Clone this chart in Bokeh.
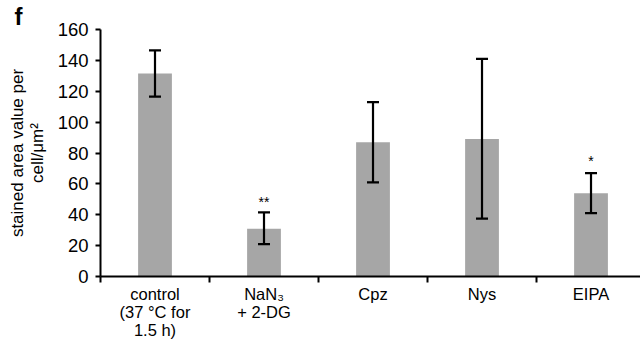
from bokeh.plotting import figure
from bokeh.models import Range1d, FixedTicker, Whisker, ColumnDataSource
from bokeh.core.properties import value
from bokeh.embed import file_html
from bokeh.resources import INLINE

categories = ["control\n(37 °C for\n1.5 h)", "NaN\u2083\n+ 2-DG", "Cpz", "Nys", "EIPA"]
means = [131.5, 31.0, 87.0, 89.0, 54.0]
err_upper = [146.5, 41.5, 113.0, 141.0, 67.0]
err_lower = [116.5, 21.0, 61.0, 37.5, 41.0]
stars = ["", "**", "", "", "*"]
star_y = [0, 48, 0, 0, 75]
y_ticks = [0, 20, 40, 60, 80, 100, 120, 140, 160]

xs = [i + 0.5 for i in range(len(categories))]
FONT = "Liberation Sans"

p = figure(width=640, height=341, output_backend="svg", toolbar_location=None,
           x_range=Range1d(0, 4.954), y_range=Range1d(0, 160),
           min_border_left=100, min_border_right=0, min_border_top=0, min_border_bottom=64,
           title="f")
p.title.text_font = FONT
p.title.text_font_style = "bold"
p.title.text_font_size = "24px"
p.title.text_line_height = 0.8
p.title.text_color = "black"
p.title.align = "left"
p.title.offset = -86
p.title.standoff = 0
p.outline_line_color = None
p.xgrid.visible = False
p.ygrid.visible = False
p.background_fill_color = "white"
p.border_fill_color = "white"

src = ColumnDataSource(dict(x=xs, top=means, upper=err_upper, lower=err_lower))
p.vbar(x="x", top="top", width=0.31, bottom=0, source=src, fill_color="#a6a6a6", line_color=None)

w = Whisker(base="x", upper="upper", lower="lower", source=src, line_color="black",
            line_width=2.2, level="overlay")
w.upper_head.size = 12
w.lower_head.size = 12
w.upper_head.line_width = 2.2
w.lower_head.line_width = 2.2
w.upper_head.line_color = "black"
w.lower_head.line_color = "black"
p.add_layout(w)

sx = [xs[i] for i in range(len(xs)) if stars[i]]
sy = [star_y[i] for i in range(len(xs)) if stars[i]]
st = [stars[i] for i in range(len(xs)) if stars[i]]
p.text(x=sx, y=sy, text=st, text_align="center", text_baseline="middle",
       text_font=value(FONT), text_font_size="14px", text_color="black")

# axes
p.xaxis.ticker = FixedTicker(ticks=xs, minor_ticks=[0, 1, 2, 3, 4])
p.xaxis.major_label_overrides = {x: c for x, c in zip(xs, categories)}
p.xaxis.major_tick_out = 0
p.xaxis.major_tick_in = 0
p.xaxis.minor_tick_out = 6
p.xaxis.minor_tick_in = 0
p.xaxis.minor_tick_line_width = 2
p.xaxis.minor_tick_line_color = "black"
p.xaxis.axis_line_width = 2
p.xaxis.axis_line_color = "black"
p.xaxis.major_label_text_font = FONT
p.xaxis.major_label_text_font_size = "16.5px"
p.xaxis.major_label_text_line_height = 1.0
p.xaxis.major_label_text_color = "black"
p.xaxis.major_label_standoff = 2

p.yaxis.ticker = FixedTicker(ticks=y_ticks)
p.yaxis.major_tick_out = 5
p.yaxis.major_tick_in = 0
p.yaxis.minor_tick_out = 0
p.yaxis.minor_tick_in = 0
p.yaxis.major_tick_line_width = 2
p.yaxis.major_tick_line_color = "black"
p.yaxis.axis_line_width = 2
p.yaxis.axis_line_color = "black"
p.yaxis.major_label_text_font = FONT
p.yaxis.major_label_text_font_size = "18.5px"
p.yaxis.major_label_text_color = "black"
p.yaxis.major_label_standoff = 7
p.yaxis.axis_label = "stained area value per\ncell/\u03bcm\u00b2"
p.yaxis.axis_label_text_font = FONT
p.yaxis.axis_label_text_font_style = "normal"
p.yaxis.axis_label_text_font_size = "17px"
p.yaxis.axis_label_text_line_height = 1.05
p.yaxis.axis_label_text_color = "black"
p.yaxis.axis_label_standoff = 8

open("out.html", "w").write(file_html(p, INLINE))
